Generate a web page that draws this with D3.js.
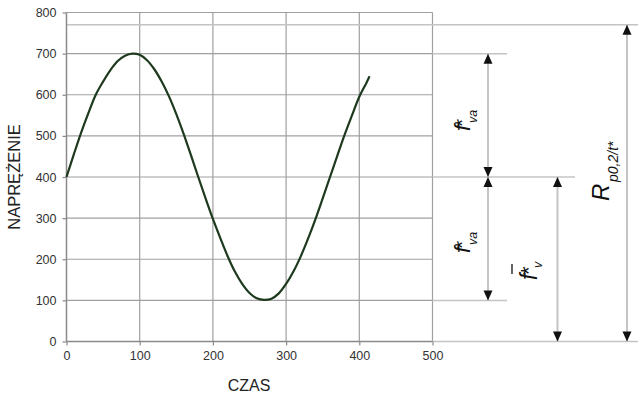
<!DOCTYPE html>
<html>
<head>
<meta charset="utf-8">
<script src="https://cdn.jsdelivr.net/npm/d3@7/dist/d3.min.js"></script>
<style>
  html, body { margin: 0; padding: 0; background: #fff; }
  svg { display: block; }
  text { font-family: "Liberation Sans", Arial, sans-serif; }
</style>
</head>
<body>
<svg id="chart" width="638" height="398"></svg>
<script>
// ---- data ----
const czas = [0, 10, 20, 30, 40, 50, 60, 70, 80, 90, 100, 110, 120, 130, 140, 150, 160, 170, 180, 190, 200,
  210, 220, 230, 240, 250, 260, 270, 280, 290, 300, 310, 320, 330, 340, 350, 360, 370, 380, 390, 400, 410, 414];
const naprezenie = [400, 455, 508, 556, 600, 632, 660, 682, 695, 700, 697, 684, 662, 632, 596, 553, 505, 453, 400, 348, 298,
  252, 208, 170, 140, 118, 105, 101, 104, 117, 140, 170, 207, 250, 297, 348, 400, 452, 503, 550, 595, 630, 645];
const xTicks = [0, 100, 200, 300, 400, 500];
const yTicks = [0, 100, 200, 300, 400, 500, 600, 700, 800];
// reference levels used by the dimension arrows
const levelMax = 700, levelMean = 400, levelMin = 100, levelZero = 0, levelR = 770;

// ---- layout ----
const svg = d3.select("#chart");
const x = d3.scaleLinear().domain([0, 500]).range([66.5, 432.5]);
const y = d3.scaleLinear().domain([0, 800]).range([341.5, 12.5]);
const W = 638;

// gridlines
const grid = svg.append("g");
grid.selectAll(".hg").data(yTicks.filter(d => d > 0)).join("line")
  .attr("x1", x(0)).attr("x2", x(500))
  .attr("y1", d => y(d)).attr("y2", d => y(d))
  .attr("stroke", "#a0a0a0").attr("stroke-width", 1.2);
grid.selectAll(".vg").data(xTicks.filter(d => d > 0)).join("line")
  .attr("x1", d => x(d)).attr("x2", d => x(d))
  .attr("y1", y(0)).attr("y2", y(800))
  .attr("stroke", "#a0a0a0").attr("stroke-width", 1.2);

// extended reference lines to the right
const ext = [
  { v: levelR, x1: x(0), x2: W },
  { v: levelMax, x1: x(500), x2: 507 },
  { v: levelMean, x1: x(500), x2: 575 },
  { v: levelMin, x1: x(500), x2: 507 },
  { v: levelZero, x1: x(500), x2: W }
];
svg.append("g").selectAll("line").data(ext).join("line")
  .attr("x1", d => d.x1).attr("x2", d => d.x2)
  .attr("y1", d => y(d.v)).attr("y2", d => y(d.v))
  .attr("stroke", "#c4c4c4").attr("stroke-width", 1.5);

// axes
const xAxis = d3.axisBottom(x).tickValues(xTicks).tickSize(4).tickPadding(6).tickFormat(d3.format("d"));
const yAxis = d3.axisLeft(y).tickValues(yTicks).tickSize(4).tickPadding(6).tickFormat(d3.format("d"));
const gx = svg.append("g").attr("transform", `translate(0,${y(0)})`).call(xAxis);
const gy = svg.append("g").attr("transform", `translate(${x(0)},0)`).call(yAxis);
[gx, gy].forEach(g => {
  g.select(".domain").attr("stroke", "#8a8a8a").attr("stroke-width", 1.5);
  g.selectAll(".tick line").attr("stroke", "#8a8a8a").attr("stroke-width", 1.2);
  g.selectAll(".tick text").attr("fill", "#333").attr("font-size", 12.5)
    .style("font-family", "'Liberation Sans', Arial, sans-serif");
});
gx.select(".domain").attr("d", `M${x(0)},0H${x(500)}`);
gy.select(".domain").attr("d", `M0,${y(0)}V${y(800)}`);

// axis titles
svg.append("text").attr("x", 249).attr("y", 391).attr("text-anchor", "middle")
  .attr("font-size", 16).attr("fill", "#222").text("CZAS");
svg.append("text").attr("transform", `translate(20,${177}) rotate(-90)`).attr("text-anchor", "middle")
  .attr("font-size", 16.5).attr("fill", "#222").text("NAPRĘŻENIE");

// curve
const line = d3.line().x((d, i) => x(czas[i])).y(d => y(d)).curve(d3.curveCatmullRom);
svg.append("path").datum(naprezenie).attr("d", line)
  .attr("fill", "none").attr("stroke", "#1e3a1e").attr("stroke-width", 2.2);

// dimension arrows
const arrows = [
  { px: 488, from: levelMean, to: levelMax },
  { px: 488, from: levelMin, to: levelMean },
  { px: 557.5, from: levelZero, to: levelMean },
  { px: 627, from: levelZero, to: levelR }
];
const ag = svg.append("g");
const headL = 10, headW = 4.5;
arrows.forEach(a => {
  const yTop = y(a.to), yBot = y(a.from);
  ag.append("line").attr("x1", a.px).attr("x2", a.px).attr("y1", yTop).attr("y2", yBot)
    .attr("stroke", "#c4c4c4").attr("stroke-width", 2);
  ag.append("path").attr("d", `M${a.px},${yTop}L${a.px - headW},${yTop + headL}L${a.px + headW},${yTop + headL}Z`)
    .attr("fill", "#111");
  ag.append("path").attr("d", `M${a.px},${yBot}L${a.px - headW},${yBot - headL}L${a.px + headW},${yBot - headL}Z`)
    .attr("fill", "#111");
});

// rotated labels
function rotGroup(bx, by) {
  return svg.append("g").attr("transform", `translate(${bx},${by}) rotate(-90)`);
}
function fva(bx, by) {
  const g = rotGroup(bx, by);
  g.append("text").attr("x", 0).attr("y", 0).attr("font-size", 22).attr("font-style", "italic").attr("fill", "#111").text("f");
  g.append("text").attr("x", 4).attr("y", -1).attr("font-size", 21).attr("fill", "#111").text("*");
  g.append("text").attr("x", 8).attr("y", 7).attr("font-size", 12.5).attr("font-style", "italic").attr("fill", "#111").text("va");
}
fva(470, 131);
fva(470, 253);

// f-bar * v
(function () {
  const g = rotGroup(537, 280);
  g.append("text").attr("x", 0).attr("y", 0).attr("font-size", 23).attr("font-style", "italic").attr("fill", "#111").text("f");
  g.append("text").attr("x", 5).attr("y", -1).attr("font-size", 22).attr("fill", "#111").text("*");
  g.append("text").attr("x", 12).attr("y", 5).attr("font-size", 12.5).attr("font-style", "italic").attr("fill", "#111").text("v");
  g.append("line").attr("x1", 6).attr("x2", 16).attr("y1", -25).attr("y2", -25).attr("stroke", "#111").attr("stroke-width", 1.3);
})();

// R p0,2/t*
(function () {
  const g = rotGroup(609, 201);
  g.append("text").attr("x", 0).attr("y", 0).attr("font-size", 24).attr("font-style", "italic").attr("fill", "#111").text("R");
  g.append("text").attr("x", 19).attr("y", 9).attr("font-size", 14).attr("font-style", "italic").attr("fill", "#111").text("p0,2/t*");
})();
</script>
</body>
</html>
